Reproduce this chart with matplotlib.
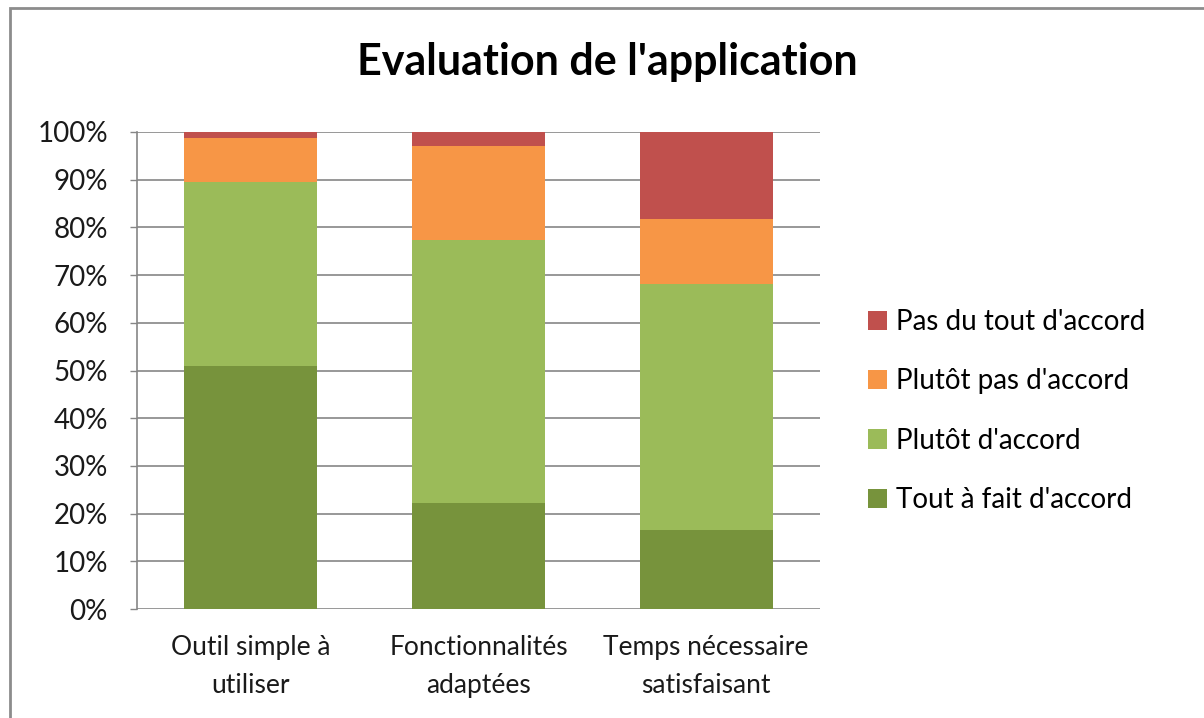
"""Stacked 100% bar chart: evaluation de l'application."""

import matplotlib
matplotlib.use("Agg")
import matplotlib.pyplot as plt
from matplotlib.patches import Rectangle
from matplotlib.ticker import PercentFormatter

plt.rcParams["font.family"] = ["Lato", "DejaVu Sans"]

# data (percent of answers)
categories = ["Outil simple à\nutiliser", "Fonctionnalités\nadaptées", "Temps nécessaire\nsatisfaisant"]
tout_a_fait = [51.0, 22.2, 16.6]
plutot_accord = [38.5, 55.2, 51.5]
plutot_pas = [9.2, 19.7, 13.6]
pas_du_tout = [1.3, 2.9, 18.3]

series = [
    ("Tout à fait d'accord", tout_a_fait, "#77933C"),
    ("Plutôt d'accord", plutot_accord, "#9BBB59"),
    ("Plutôt pas d'accord", plutot_pas, "#F79646"),
    ("Pas du tout d'accord", pas_du_tout, "#C0504D"),
]

W, H = 1204, 718
fig = plt.figure(figsize=(W / 100, H / 100), dpi=100)
ax = fig.add_axes([137 / W, 1 - 609 / H, (820 - 137) / W, (609 - 132) / H])

# outer chart frame
fig.patches.append(Rectangle((10 / W, -0.01), 1.2, 1 - 8 / H + 0.01, transform=fig.transFigure,
                             fill=False, edgecolor="#8c8c8c", linewidth=2))

x = range(len(categories))
bottom = [0.0] * len(categories)
handles = []
for label, vals, color in series:
    b = ax.bar(x, vals, width=0.585, bottom=bottom, color=color, label=label, zorder=3)
    handles.append(b)
    bottom = [b0 + v for b0, v in zip(bottom, vals)]

ax.set_xlim(-0.5, 2.5)
ax.set_ylim(0, 100)
ax.set_yticks(range(0, 101, 10))
ax.yaxis.set_major_formatter(PercentFormatter(decimals=0))
ax.grid(axis="y", color="#868686", linewidth=1.2, zorder=0)
ax.set_xticks(list(x))
ax.set_xticklabels(categories, fontsize=19, linespacing=1.65, color="#1a1a1a")
ax.tick_params(axis="x", length=0, pad=19)
ax.tick_params(axis="y", length=5, width=1, color="#868686", labelsize=20, labelcolor="#1a1a1a", pad=16)
for side in ("top", "right", "bottom"):
    ax.spines[side].set_visible(False)
ax.spines["left"].set_color("#868686")
ax.spines["left"].set_linewidth(1.2)

fig.text(607 / W, 1 - 62 / H, "Evaluation de l'application", ha="center", va="center",
         fontsize=31, fontweight="bold", color="#000000")

ax.legend(handles[::-1], [s[0] for s in series][::-1], loc="center left",
          bbox_to_anchor=(843 / W, 1 - 411 / H), bbox_transform=fig.transFigure,
          frameon=False, fontsize=20, handlelength=0.7, handleheight=0.7,
          handletextpad=0.3, labelspacing=1.2)

fig.savefig("out.png", dpi=100)
